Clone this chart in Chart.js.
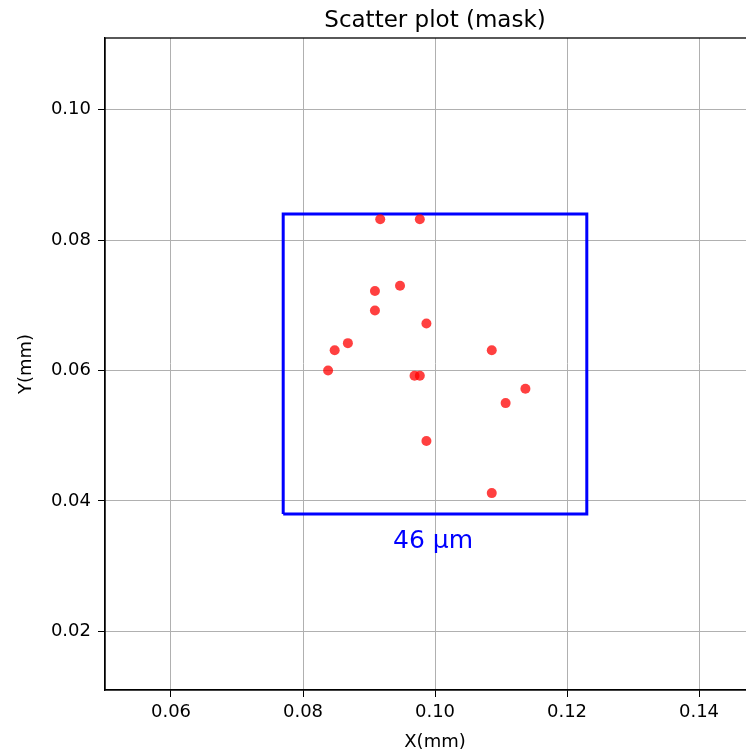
<!DOCTYPE html>
<html><head><meta charset="utf-8">
<script src="https://cdn.jsdelivr.net/npm/chart.js@4"></script>
<style>
html,body{margin:0;padding:0;background:#fff;overflow:hidden;}
#wrap{width:746px;height:753px;overflow:hidden;position:relative;}
#c{position:absolute;left:0;top:0;}
</style></head><body>
<div id="wrap"><canvas id="c" width="780" height="753"></canvas></div>
<script>
const pointsX = [0.0917,0.0977,0.0947,0.0909,0.0909,0.0987,0.0868,0.0848,0.0838,0.0969,0.0977,0.1086,0.1137,0.1107,0.0987,0.1086];
const pointsY = [0.0832,0.0832,0.0730,0.0722,0.0692,0.0672,0.0642,0.0631,0.0600,0.0592,0.0592,0.0631,0.0572,0.0550,0.0492,0.0412];
const maskX = [0.077,0.077,0.123,0.123,0.077];
const maskY = [0.038,0.084,0.084,0.038,0.038];
const maskLabel = '46 µm';
const xTicks = [0.06,0.08,0.10,0.12,0.14];
const yTicks = [0.02,0.04,0.06,0.08,0.10];
const xRange = [0.05,0.15];
const yRange = [0.011,0.111];
const titleText = 'Scatter plot (mask)';
const FONT = "'DejaVu Sans', sans-serif";

const overlay = {
  id:'overlay',
  afterDraw(chart){
    const ctx = chart.ctx, a = chart.chartArea;
    ctx.save();
    ctx.strokeStyle = '#000'; ctx.lineWidth = 1.3;
    ctx.strokeRect(a.left, a.top, a.right - a.left, a.bottom - a.top);
    ctx.fillStyle = '#000';
    ctx.font = '23px ' + FONT;
    ctx.textAlign = 'center'; ctx.textBaseline = 'alphabetic';
    ctx.fillText(titleText, (a.left + a.right)/2, 27);
    const xs = chart.scales.x, ys = chart.scales.y;
    ctx.fillStyle = '#0000ff';
    ctx.font = '25px ' + FONT;
    ctx.fillText(maskLabel, xs.getPixelForValue((maskX[0]+maskX[2])/2) - 2, ys.getPixelForValue(Math.min(...maskY)) + 34);
    ctx.restore();
  }
};

new Chart(document.getElementById('c'), {
  type:'scatter',
  data:{datasets:[
    {data: pointsX.map((x,i)=>({x, y: pointsY[i]})), backgroundColor:'rgba(255,0,0,0.75)', borderWidth:0, pointRadius:5, pointHoverRadius:5, order:1},
    {data: maskX.map((x,i)=>({x, y: maskY[i]})), showLine:true, borderColor:'#0000ff', borderWidth:3, pointRadius:0, fill:false, order:2}
  ]},
  options:{
    responsive:false, animation:false, devicePixelRatio:1,
    layout:{padding:{top:38,right:15,bottom:0,left:0}},
    plugins:{legend:{display:false}, tooltip:{enabled:false}, title:{display:false}},
    scales:{
      x:{type:'linear', min:xRange[0], max:xRange[1],
        afterBuildTicks(s){ s.ticks = xTicks.map(v=>({value:v})); },
        afterFit(s){ s.height = 63; },
        grid:{color:'#b0b0b0', lineWidth:1, tickLength:7, tickColor:'#000', drawTicks:true},
        border:{display:true, color:'#000', width:1.3},
        ticks:{color:'#000', font:{family:FONT, size:18}, padding:5, maxRotation:0, callback:v=>v.toFixed(2)},
        title:{display:true, text:'X(mm)', color:'#000', font:{family:FONT, size:18}, padding:{top:0,bottom:0}}
      },
      y:{type:'linear', min:yRange[0], max:yRange[1],
        afterBuildTicks(s){ s.ticks = yTicks.map(v=>({value:v})); },
        afterFit(s){ s.width = 105; },
        grid:{color:'#b0b0b0', lineWidth:1, tickLength:7, tickColor:'#000', drawTicks:true},
        border:{display:true, color:'#000', width:1.3},
        ticks:{color:'#000', font:{family:FONT, size:18}, padding:7, callback:v=>v.toFixed(2)},
        title:{display:true, text:'Y(mm)', color:'#000', font:{family:FONT, size:18}, padding:{top:16,bottom:0}}
      }
    }
  },
  plugins:[overlay]
});
</script></body></html>
